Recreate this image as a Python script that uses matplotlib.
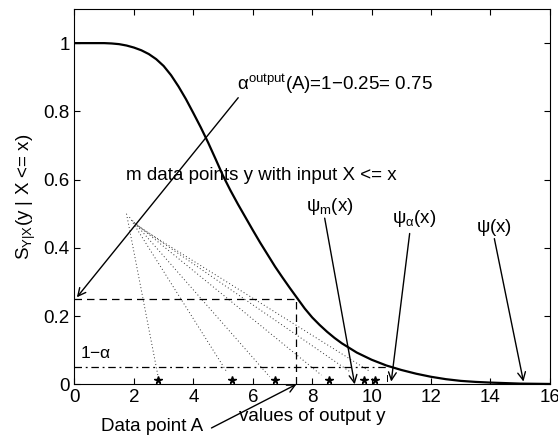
import numpy as np
import matplotlib
matplotlib.use('Agg')
import matplotlib.pyplot as plt

plt.rcParams['font.family'] = ['Liberation Sans', 'DejaVu Sans']
plt.rcParams['mathtext.default'] = 'regular'
plt.rcParams['font.size'] = 13.5

# survival curve S_{Y|X}(y | X <= x)
y_vals = [0, 1, 1.25, 1.5, 1.75, 2, 2.25, 2.5, 2.75, 3, 3.25, 3.5, 3.75,
          4, 4.25, 4.5, 4.75, 5, 5.25, 5.5, 5.75, 6, 6.25, 6.5, 6.75, 7,
          7.25, 7.5, 7.75, 8, 8.25, 8.5, 8.75, 9, 9.5, 10, 10.5, 11, 11.5,
          12, 12.5, 13, 13.5, 14, 15, 16]
s_vals = [1.0, 1.0, 0.999, 0.997, 0.993, 0.987, 0.979, 0.968, 0.953, 0.933,
          0.906, 0.873, 0.836, 0.795, 0.753, 0.708, 0.66, 0.611, 0.568,
          0.528, 0.49, 0.452, 0.415, 0.38, 0.345, 0.313, 0.282, 0.252,
          0.222, 0.196, 0.174, 0.154, 0.136, 0.12, 0.093, 0.072, 0.055,
          0.042, 0.031, 0.022, 0.015, 0.01, 0.007, 0.005, 0.002, 0.001]

# the m data points (stars) and the dotted lines leading to them
star_x = [2.82, 5.30, 6.74, 8.56, 9.74, 10.12]
star_y = [0.012, 0.012, 0.012, 0.012, 0.012, 0.012]
dot_x0 = [1.75, 1.85, 1.95, 2.0, 2.05, 2.1]
dot_y0 = [0.50, 0.49, 0.48, 0.475, 0.47, 0.465]
dot_x1 = [2.82, 5.12, 6.57, 8.31, 9.3, 9.9]
dot_y1 = [0.02, 0.037, 0.022, 0.027, 0.035, 0.04]

point_a = 7.45
s_a = 0.25
alpha_level = 0.05
psi_alpha_x = 10.5

fig = plt.figure(figsize=(5.58, 4.37), dpi=100)
ax = fig.add_axes([0.1335, 0.1206, 0.852, 0.8588])

ax.plot(y_vals, s_vals, color='black', lw=1.6)

for i in range(len(dot_x0)):
    ax.plot([dot_x0[i], dot_x1[i]], [dot_y0[i], dot_y1[i]], color='#333333',
            lw=0.7, linestyle=(0, (1, 2.5)))
ax.plot(star_x, star_y, linestyle='none', marker='*', color='black', ms=5.5)

ax.plot([0, point_a], [s_a, s_a], color='black', lw=0.9, linestyle=(0, (6, 4)))
ax.plot([point_a, point_a], [0, s_a], color='black', lw=0.9, linestyle=(0, (6, 4)))
ax.plot([0, psi_alpha_x], [alpha_level, alpha_level], color='black', lw=0.9,
        linestyle=(0, (6, 3, 1.5, 3)))
ax.plot([10.53, 10.53], [0.01, 0.027], color='black', lw=0.7)

arrow = dict(arrowstyle='->', lw=1.0, color='black', shrinkA=0, shrinkB=0,
             mutation_scale=14)
ax.annotate('', xy=(0.08, 0.255), xytext=(5.51, 0.84), arrowprops=arrow)
ax.annotate('', xy=(9.43, 0.0), xytext=(8.42, 0.487), arrowprops=arrow)
ax.annotate('', xy=(10.66, 0.008), xytext=(11.28, 0.442), arrowprops=arrow)
ax.annotate('', xy=(15.11, 0.008), xytext=(14.13, 0.427), arrowprops=arrow)
ax.annotate('', xy=(7.47, 0.0), xytext=(4.61, -0.128), arrowprops=arrow,
            annotation_clip=False)

ax.text(5.46, 0.862, r'$\alpha^{output}$(A)=1$-$0.25= 0.75')
ax.text(1.75, 0.60, 'm data points y with input X <= x')
ax.text(8.6, 0.522, r'$\psi_m$(x)', ha='center', va='center')
ax.text(11.44, 0.485, r'$\psi_\alpha$(x)', ha='center', va='center')
ax.text(14.13, 0.461, r'$\psi$(x)', ha='center', va='center')
ax.text(0.185, 0.092, r'1$-\alpha$', fontsize=12.5, va='center')
ax.text(4.32, -0.125, 'Data point A', ha='right', va='center', clip_on=False)

ax.set_xlim(0, 16)
ax.set_ylim(0, 1.1)
ax.set_xticks(np.arange(0, 17, 2))
ax.set_yticks([0, 0.2, 0.4, 0.6, 0.8, 1])
ax.set_yticklabels(['0', '0.2', '0.4', '0.6', '0.8', '1'])
ax.tick_params(direction='in', top=True, right=True, length=4, labelsize=13.5)
ax.set_xlabel('values of output y', labelpad=1)
ax.set_ylabel(r'$S_{Y|X}$(y | X <= x)', labelpad=4)

plt.savefig('out.png', dpi=100)
